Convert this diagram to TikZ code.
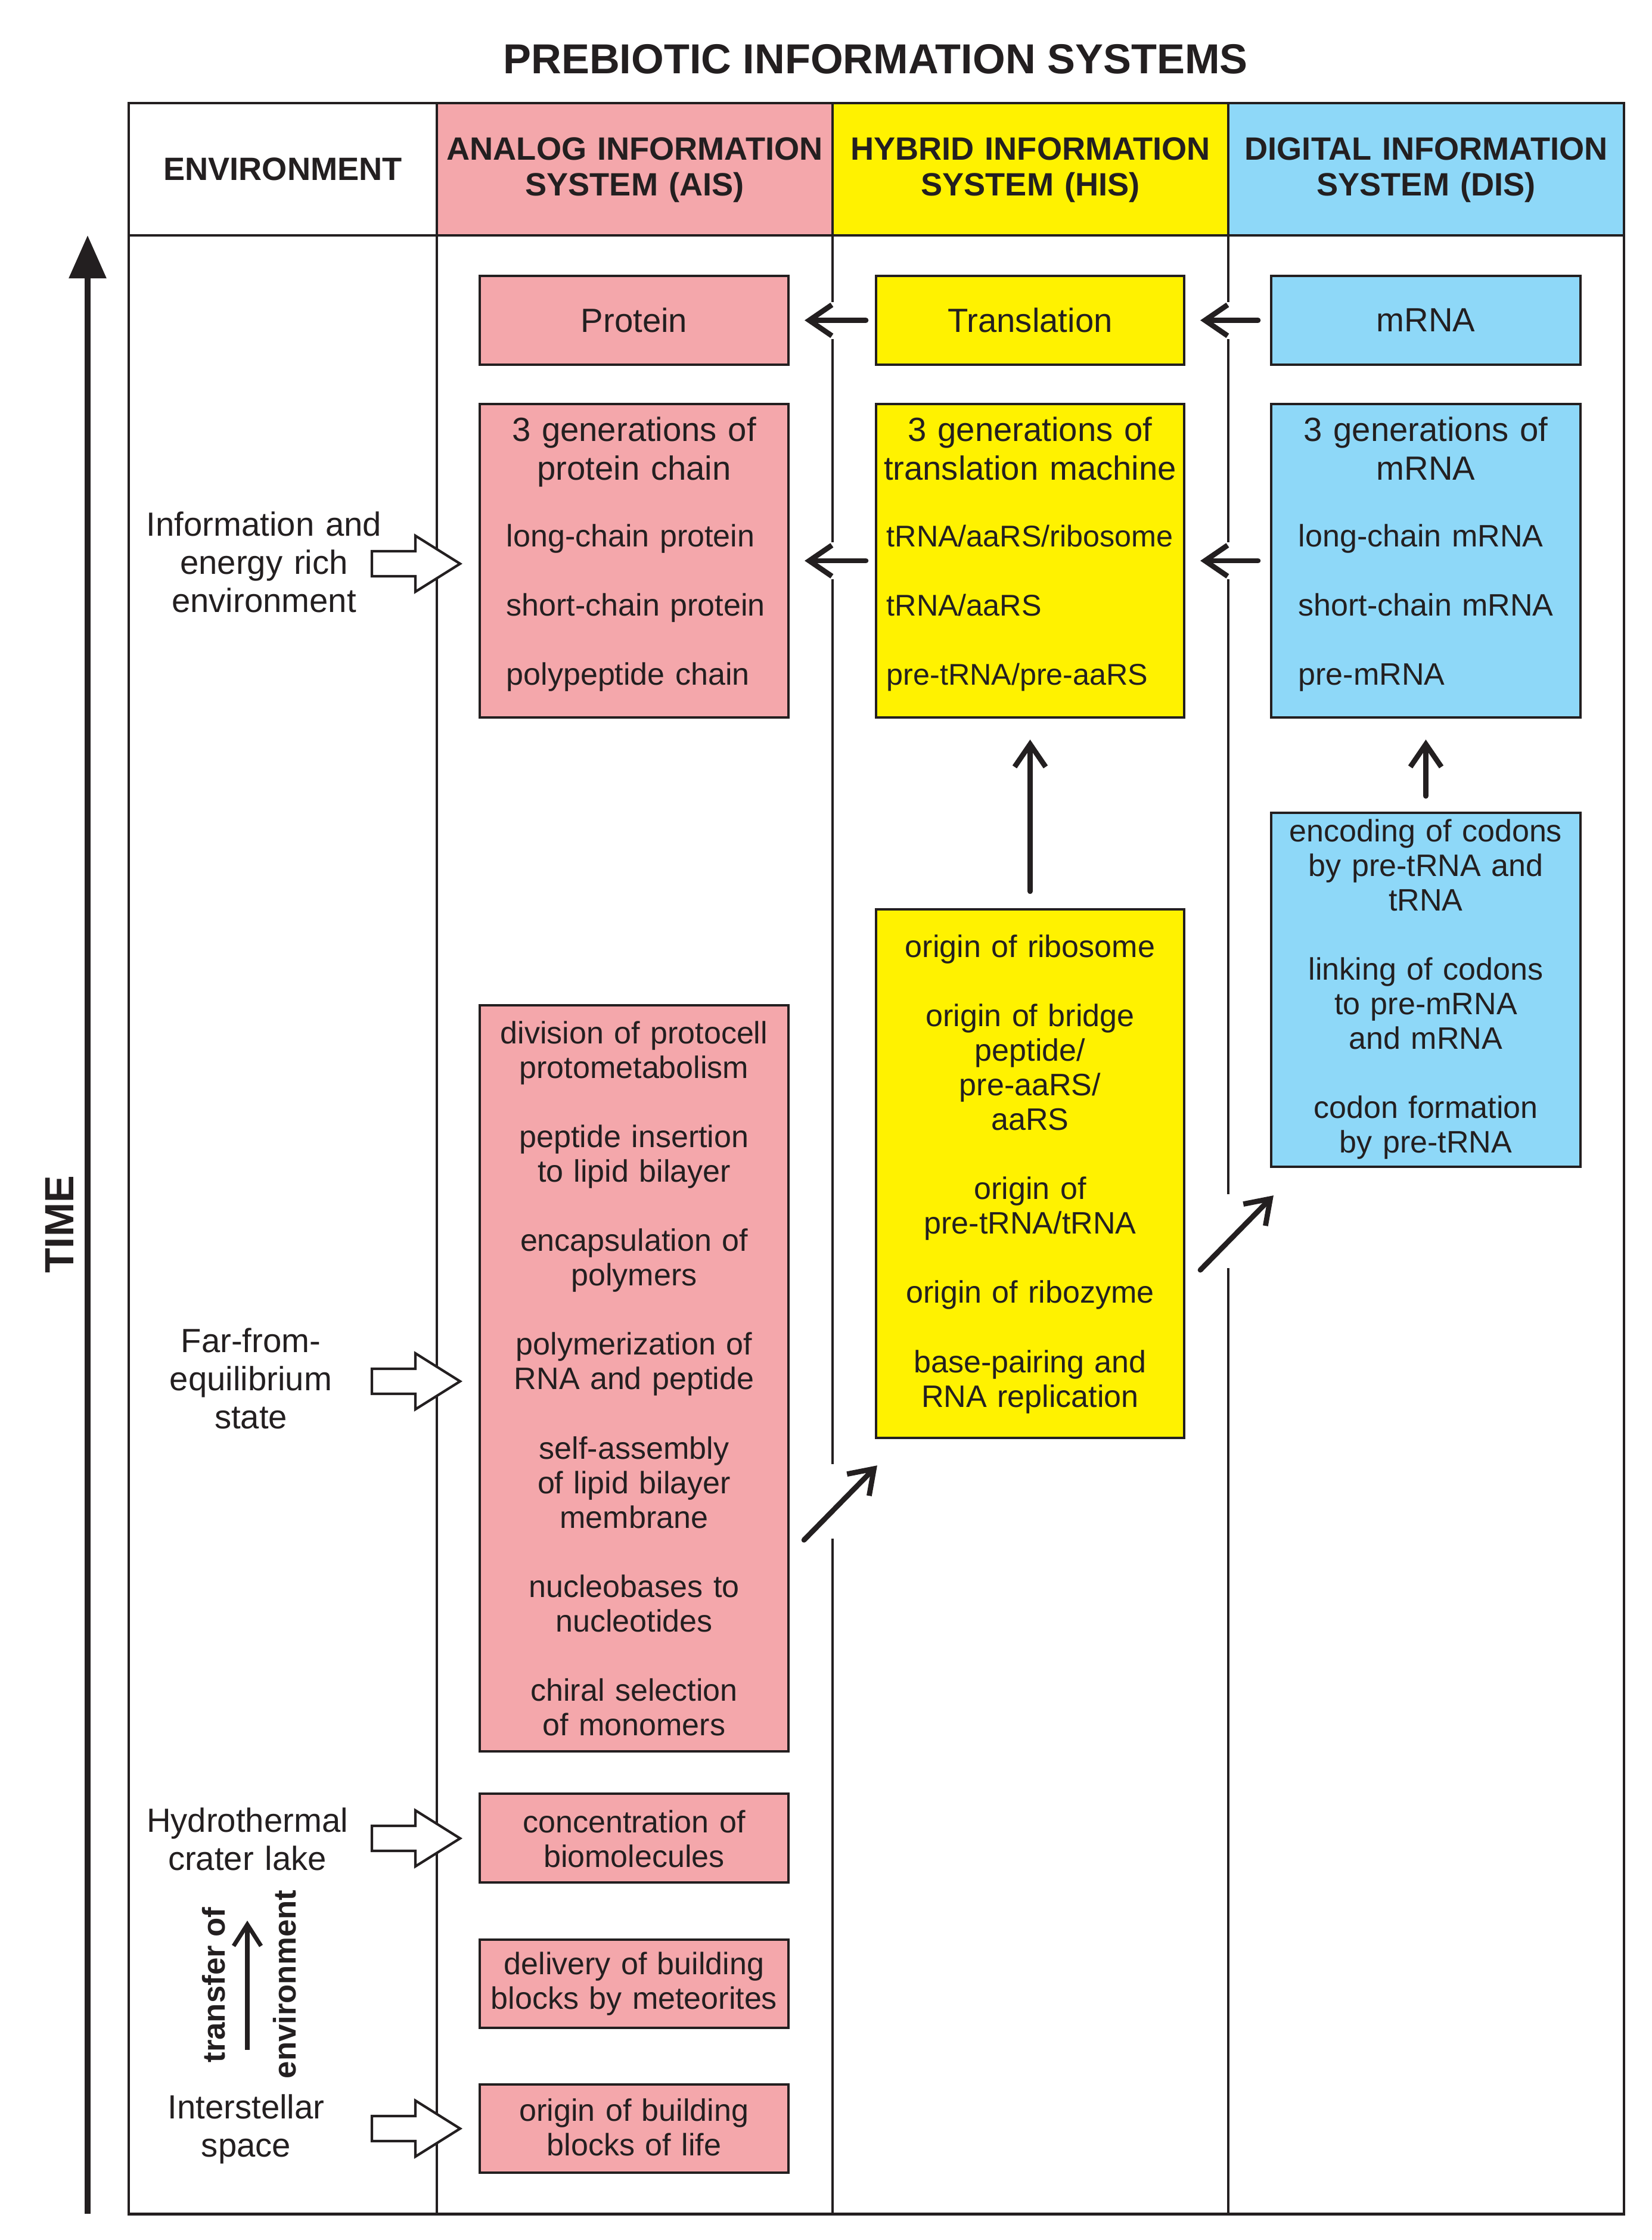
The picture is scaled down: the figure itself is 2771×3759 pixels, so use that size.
\documentclass[tikz,border=0pt]{standalone}
\usepackage{fontspec}
\setmainfont{Liberation Sans}
\usetikzlibrary{arrows.meta,calc}
\definecolor{aispink}{HTML}{F4A7AB}
\definecolor{hisyellow}{HTML}{FFF200}
\definecolor{disblue}{HTML}{8ED8F8}
\definecolor{ink}{HTML}{231F20}
\newcommand{\fTitle}{\fontsize{20}{22}\selectfont\bfseries}
\newcommand{\fHead}{\fontsize{15.4}{17}\selectfont\bfseries}
\newcommand{\fBig}{\fontsize{16}{18.5}\selectfont}
\newcommand{\fItem}{\fontsize{14.8}{16.5}\selectfont}
\newcommand{\fItemW}{\fontsize{14.8}{33}\selectfont}
\newcommand{\fItemWs}{\fontsize{14.3}{33}\selectfont}
\newcommand{\fEnv}{\fontsize{16}{18.2}\selectfont}
\newcommand{\blockarr}[1]{\draw[blockarrow] (624,{#1-21}) -- (697,{#1-21}) -- (697,{#1-47}) -- (772,#1) -- (697,{#1+47}) -- (697,{#1+21}) -- (624,{#1+21}) -- cycle;}
\tikzset{
  tablerule/.style={draw=ink, line width=1.4pt},
  boxbase/.style={draw=ink, line width=1.1pt, inner sep=0pt, text=ink},
  pinkbox/.style={boxbase, fill=aispink, minimum width=5.18cm},
  yellowbox/.style={boxbase, fill=hisyellow, minimum width=5.17cm},
  bluebox/.style={boxbase, fill=disblue, minimum width=5.19cm},
  ctext/.style={inner sep=0pt, anchor=north, align=center, text width=5cm, text=ink},
  ltext/.style={inner sep=0pt, anchor=north west, align=left, text width=4.9cm, text=ink},
  envtext/.style={inner sep=0pt, anchor=north, align=center, text width=4.2cm, text=ink, font=\fEnv},
  headtext/.style={inner sep=0pt, anchor=north, align=center, text width=6.5cm, text=ink, font=\fHead},
  conn/.style={draw=ink, line width=2.5pt, line cap=round, -{Straight Barb[length=3.8mm,width=5.2mm]}},
  blockarrow/.style={draw=ink, fill=white, line width=1.2pt, line join=miter}
}
\begin{document}
\begin{tikzpicture}[x=0.01cm,y=-0.01cm]
\useasboundingbox (0,0) rectangle (2771,3759);
\fill[white] (0,0) rectangle (2771,3759);

% title
\node[anchor=base, inner sep=0pt, font=\fTitle, text=ink] (title) at (1469,123) {PREBIOTIC INFORMATION SYSTEMS};

% header fills
\fill[aispink] (733,173) rectangle (1397,395);
\fill[hisyellow] (1397,173) rectangle (2061,395);
\fill[disblue] (2061,173) rectangle (2725,395);

% table rules
\draw[tablerule] (216,173) rectangle (2725,3715);
\draw[tablerule] (216,395) -- (2725,395);
\draw[tablerule] (733,173) -- (733,3715);
\draw[tablerule] (1397,173) -- (1397,507) (1397,569) -- (1397,910) (1397,972) -- (1397,2457) (1397,2582) -- (1397,3715);
\draw[tablerule] (2061,173) -- (2061,507) (2061,569) -- (2061,910) (2061,972) -- (2061,2004) (2061,2128) -- (2061,3715);

% headers
\node[anchor=base, inner sep=0pt, font=\fHead, text=ink] (henv) at (474.5,302) {ENVIRONMENT};
\node[headtext] (hais) at (1065,226) {\strut ANALOG INFORMATION\\SYSTEM (AIS)};
\node[headtext] (hhis) at (1729,226) {\strut HYBRID INFORMATION\\SYSTEM (HIS)};
\node[headtext] (hdis) at (2393,226) {\strut DIGITAL INFORMATION\\SYSTEM (DIS)};

% row 1
\node[pinkbox, minimum height=1.49cm, font=\fBig] (protein) at (1064,537.5) {Protein};
\node[yellowbox, minimum height=1.49cm, font=\fBig] (transl) at (1728.5,537.5) {Translation};
\node[bluebox, minimum height=1.49cm, font=\fBig] (mrna) at (2392.5,537.5) {mRNA};

% row 2: three generations
\node[pinkbox, minimum height=5.26cm] (aisgen) at (1064,941) {};
\node[yellowbox, minimum height=5.26cm] (hisgen) at (1728.5,941) {};
\node[bluebox, minimum height=5.26cm] (disgen) at (2392.5,941) {};
\node[ctext, font=\fBig] (aisgenT) at (1064,694.5) {\strut 3 generations of\\protein chain};
\node[ctext, font=\fBig] (hisgenT) at (1728.5,694.5) {\strut 3 generations of\\translation machine};
\node[ctext, font=\fBig] (disgenT) at (2392.5,694.5) {\strut 3 generations of\\mRNA};
\node[ltext, font=\fItemW] (aisgenI) at (849,835.8) {\strut long-chain protein\\short-chain protein\\polypeptide chain};
\node[ltext, font=\fItemWs] (hisgenI) at (1487,835.8) {\strut tRNA/aaRS/ribosome\\tRNA/aaRS\\pre-tRNA/pre-aaRS};
\node[ltext, font=\fItemW] (disgenI) at (2178,835.8) {\strut long-chain mRNA\\short-chain mRNA\\pre-mRNA};

% AIS big box
\node[pinkbox, minimum height=12.52cm] (bigais) at (1064,2313) {};
\node[ctext, font=\fItem] (bigaisT) at (1064,1710.4) {\strut division of protocell\\protometabolism\\[16.5pt]peptide insertion\\to lipid bilayer\\[16.5pt]encapsulation of\\polymers\\[16.5pt]polymerization of\\RNA and peptide\\[16.5pt]self-assembly\\of lipid bilayer\\membrane\\[16.5pt]nucleobases to\\nucleotides\\[16.5pt]chiral selection\\of monomers};

% AIS lower boxes
\node[pinkbox, minimum height=1.49cm] (conc) at (1064,3084.5) {};
\node[ctext, font=\fItem] (concT) at (1064,3034.4) {\strut concentration of\\biomolecules};
\node[pinkbox, minimum height=1.48cm] (deliv) at (1064,3329) {};
\node[ctext, font=\fItem] (delivT) at (1064,3272.4) {\strut delivery of building\\blocks by meteorites};
\node[pinkbox, minimum height=1.48cm] (orig) at (1064,3572) {};
\node[ctext, font=\fItem] (origT) at (1064,3518.4) {\strut origin of building\\blocks of life};

% HIS lower box
\node[yellowbox, minimum height=8.87cm] (hislow) at (1728.5,1969.5) {};
\node[ctext, font=\fItem] (hislowT) at (1728.5,1565.4) {\strut origin of ribosome\\[16.5pt]origin of bridge\\peptide/\\pre-aaRS/\\aaRS\\[16.5pt]origin of\\pre-tRNA/tRNA\\[16.5pt]origin of ribozyme\\[16.5pt]base-pairing and\\RNA replication};

% DIS encoding box
\node[bluebox, minimum height=5.94cm] (disenc) at (2392.5,1661) {};
\node[ctext, font=\fItem] (disencT) at (2392.5,1371.4) {\strut encoding of codons\\by pre-tRNA and\\tRNA\\[16.5pt]linking of codons\\to pre-mRNA\\and mRNA\\[16.5pt]codon formation\\by pre-tRNA};

% environment labels
\node[envtext] (envinfo) at (443,854.2) {\strut Information and\\energy rich\\environment};
\node[envtext] (envfar) at (421,2224.2) {\strut Far-from-\\equilibrium\\state};
\node[envtext] (envhydro) at (415,3029.2) {\strut Hydrothermal\\crater lake};
\node[envtext] (envinter) at (413,3510.2) {\strut Interstellar\\space};

% block arrows from environment
\blockarr{946}
\blockarr{2318}
\blockarr{3085}
\blockarr{3572}

% transfer of environment
\node[rotate=90, inner sep=0pt, font=\fontsize{15}{17}\selectfont\bfseries, text=ink] (transfer) at (359,3331) {transfer of};
\node[rotate=90, inner sep=0pt, font=\fontsize{15}{17}\selectfont\bfseries, text=ink] (environ) at (478,3330) {environment};
\coordinate (trA) at (415,3440);
\coordinate (trB) at (415,3223);
\draw[draw=ink, line width=2pt, -{Straight Barb[length=3.6mm,width=4.6mm]}] (trA) -- (trB);

% TIME axis
\node[rotate=90, inner sep=0pt, font=\fontsize{19.5}{22}\selectfont\bfseries, text=ink] (time) at (100,2055) {TIME};
\coordinate (timeBot) at (147,3715);
\coordinate (timeTop) at (147,395);
\draw[draw=ink, line width=2.6pt, -{Triangle[length=7.2mm,width=6.1mm]}] (timeBot) -- (timeTop);

% connectors
\draw[conn] ([xshift=-0.15cm]transl.west) -- ([xshift=0.25cm]protein.east);
\draw[conn] ([xshift=-0.2cm]mrna.west) -- ([xshift=0.25cm]transl.east);
\draw[conn] ([xshift=-0.15cm]hisgen.west) -- ([xshift=0.25cm]aisgen.east);
\draw[conn] ([xshift=-0.2cm]disgen.west) -- ([xshift=0.25cm]hisgen.east);
\draw[conn] ([yshift=0.28cm]hislow.north) -- ([yshift=-0.35cm]hisgen.south);
\draw[conn] ([yshift=0.26cm]disenc.north) -- ([yshift=-0.35cm]disgen.south);
\draw[conn] ($(bigais.south east)+(24,-357)$) -- ($(hislow.south west)+(4,44)$);
\draw[conn] ($(hislow.south east)+(25,-284)$) -- ($(disenc.south west)+(6,46)$);
\end{tikzpicture}
\end{document}
